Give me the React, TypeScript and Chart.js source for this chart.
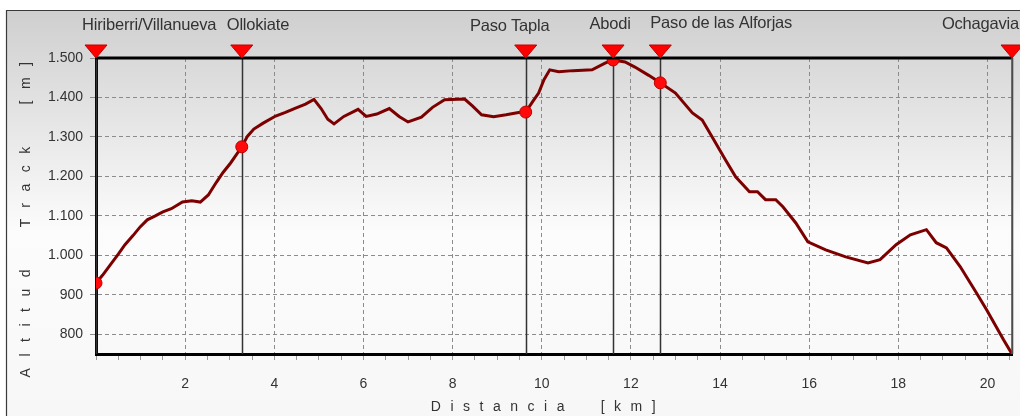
import React, { useEffect, useRef } from "react";
import { Chart, registerables } from "chart.js";

Chart.register(...registerables);

// Profile: distance (km) and altitude (m)
const distKm = [
  0.0, 0.15, 0.32, 0.5, 0.65, 0.83, 0.99, 1.15, 1.33, 1.5, 1.69, 1.94, 2.15, 2.34, 2.52, 2.7, 2.85, 3.02, 3.15,
  3.27, 3.4, 3.54, 3.75, 4.03, 4.25, 4.45, 4.7, 4.89, 5.05, 5.2, 5.34, 5.56, 5.88, 6.06, 6.3, 6.58, 6.8, 7.0,
  7.3, 7.55, 7.82, 8.27, 8.45, 8.65, 8.92, 9.2, 9.48, 9.64, 9.8, 9.93, 10.05, 10.18, 10.38, 10.7, 11.13, 11.42,
  11.6, 11.87, 12.09, 12.4, 12.66, 13.0, 13.38, 13.6, 13.85, 14.12, 14.35, 14.66, 14.84, 15.02, 15.25, 15.41,
  15.7, 15.97, 16.37, 16.82, 17.32, 17.59, 17.95, 18.27, 18.63, 18.85, 19.08, 19.39, 19.75, 19.98, 20.36, 20.55,
];
const altitudeM = [
  930, 950, 976, 1003, 1027, 1050, 1072, 1090, 1100, 1110, 1118, 1135, 1138, 1135, 1153, 1185, 1210, 1234, 1255,
  1275, 1302, 1320, 1335, 1353, 1362, 1372, 1383, 1395, 1372, 1345, 1333, 1352, 1370, 1352, 1358, 1372, 1352, 1338,
  1350, 1375, 1394, 1396, 1378, 1356, 1351, 1356, 1362, 1363, 1390, 1411, 1445, 1470, 1465, 1468, 1470, 1487,
  1495, 1490, 1477, 1456, 1437, 1411, 1361, 1343, 1295, 1242, 1199, 1161, 1161, 1141, 1141, 1123,
  1082, 1034, 1014, 996, 981, 989, 1027, 1052, 1065, 1032, 1019, 971, 905, 862, 786, 750,
];

// Waypoints
const wpNames = ["Hiriberri/Villanueva", "Ollokiate", "Paso Tapla", "Abodi", "Paso de las Alforjas", "Ochagavia"];
const wpKm = [0, 3.27, 9.64, 11.6, 12.66, 20.55];
const wpAlt = [930, 1275, 1363, 1495, 1437, 750];
const wpShowDot = [true, true, true, true, true, false];

// Axis ticks
const yTickValues = [800, 900, 1000, 1100, 1200, 1300, 1400, 1500];
const xMin = 0;
const xMax = 20.55;
const yMin = 750;
const yMax = 1500;

// label layout (styling): alignment and pixel offsets from the waypoint marker
const wpLabelAlign: CanvasTextAlign[] = ["left", "left", "center", "center", "left", "right"];
const wpLabelDx = [-14, -15, -16, -3, -10, 7];
const wpLabelDy = [25, 25, 26, 24, 23, 24];

const FONT = '"Liberation Sans", Arial, sans-serif';

const fmtThousands = (v: number) => {
  const s = String(Math.round(v));
  return s.length > 3 ? s.slice(0, s.length - 3) + "." + s.slice(s.length - 3) : s;
};

const decorPlugin = {
  id: "decor",
  beforeDraw(chart: any) {
    const { ctx, width, height } = chart;
    ctx.save();
    ctx.fillStyle = "#ffffff";
    ctx.fillRect(0, 0, width, height);
    const g = ctx.createLinearGradient(0, 10, 0, height);
    g.addColorStop(0, "#cfcfcf");
    g.addColorStop(0.55, "#fcfcfc");
    g.addColorStop(1, "#f7f7f7");
    ctx.fillStyle = g;
    ctx.fillRect(6, 10, width - 6, height - 10);
    ctx.strokeStyle = "#3a3a3a";
    ctx.lineWidth = 1.2;
    ctx.beginPath();
    ctx.moveTo(6.5, height);
    ctx.lineTo(6.5, 10.5);
    ctx.lineTo(width, 10.5);
    ctx.stroke();

    // axis titles
    ctx.fillStyle = "#333";
    ctx.font = `14px ${FONT}`;
    (ctx as any).letterSpacing = "9.5px";
    ctx.textAlign = "center";
    ctx.textBaseline = "middle";
    ctx.fillText("Distancia  [km]", 548, 407);
    ctx.save();
    ctx.translate(26, 214);
    ctx.rotate(-Math.PI / 2);
    (ctx as any).letterSpacing = "11.5px";
    ctx.fillText("Altitud  Track  [m]", 0, 0);
    ctx.restore();
    (ctx as any).letterSpacing = "0px";
    ctx.restore();
  },
  beforeDatasetsDraw(chart: any) {
    const { ctx, chartArea } = chart;
    const xs = chart.scales.x;
    ctx.save();
    ctx.strokeStyle = "#333";
    ctx.lineWidth = 1.5;
    wpKm.forEach((k) => {
      const px = Math.round(xs.getPixelForValue(k)) + 0.5;
      ctx.beginPath();
      ctx.moveTo(px, chartArea.top);
      ctx.lineTo(px, chartArea.bottom);
      ctx.stroke();
    });
    ctx.restore();
  },
  afterDraw(chart: any) {
    const { ctx, chartArea } = chart;
    const xs = chart.scales.x;
    ctx.save();
    // top and right frame
    ctx.strokeStyle = "#000";
    ctx.lineWidth = 3;
    ctx.beginPath();
    ctx.moveTo(chartArea.left, chartArea.top);
    ctx.lineTo(chartArea.right, chartArea.top);
    ctx.stroke();
    ctx.strokeStyle = "#555";
    ctx.lineWidth = 1.5;
    ctx.beginPath();
    ctx.moveTo(chartArea.right, chartArea.top);
    ctx.lineTo(chartArea.right, chartArea.bottom);
    ctx.stroke();

    // triangles and labels
    wpKm.forEach((k, i) => {
      const px = xs.getPixelForValue(k);
      const tip = chartArea.top;
      ctx.beginPath();
      ctx.moveTo(px - 11, tip - 13);
      ctx.lineTo(px + 11, tip - 13);
      ctx.lineTo(px, tip);
      ctx.closePath();
      ctx.fillStyle = "#ff0000";
      ctx.fill();
      ctx.strokeStyle = "#c00000";
      ctx.lineWidth = 1;
      ctx.stroke();

      ctx.fillStyle = "#333";
      ctx.font = `16.5px ${FONT}`;
      (ctx as any).letterSpacing = "-0.2px";
      ctx.textAlign = wpLabelAlign[i];
      ctx.textBaseline = "middle";
      ctx.fillText(wpNames[i], px + wpLabelDx[i], wpLabelDy[i]);
      (ctx as any).letterSpacing = "0px";
    });
    ctx.restore();
  },
};

export default function App() {
  const ref = useRef<HTMLCanvasElement | null>(null);

  useEffect(() => {
    if (!ref.current) return;
    const profile = distKm.map((d, i) => ({ x: d, y: altitudeM[i] }));
    const dots = wpKm
      .map((k, i) => ({ x: k, y: wpAlt[i], show: wpShowDot[i] }))
      .filter((p) => p.show)
      .map((p) => ({ x: p.x, y: p.y }));

    const chart = new Chart(ref.current, {
      type: "line",
      data: {
        datasets: [
          {
            data: dots,
            showLine: false,
            pointRadius: 6,
            pointBackgroundColor: "#ff0a0a",
            pointBorderColor: "#c00000",
            pointBorderWidth: 1,
            order: 0,
          } as any,
          {
            data: profile,
            borderColor: "#7d0000",
            borderWidth: 3,
            pointRadius: 0,
            tension: 0,
            fill: false,
            order: 1,
          } as any,
        ],
      },
      plugins: [decorPlugin],
      options: {
        responsive: false,
        animation: false,
        events: [],
        layout: { padding: { left: 0, top: 58, right: 8, bottom: 0 } },
        plugins: { legend: { display: false }, tooltip: { enabled: false }, title: { display: false } },
        scales: {
          x: {
            type: "linear",
            min: xMin,
            max: xMax,
            afterFit: (s: any) => {
              s.height = 62;
              s.paddingLeft = 0;
              s.paddingRight = 0;
            },
            afterBuildTicks: (s: any) => {
              const t: any[] = [];
              for (let v = 0; v <= xMax + 1e-9; v += 0.5) t.push({ value: Math.round(v * 10) / 10 });
              s.ticks = t;
            },
            grid: {
              color: (c: any) => (c.tick && c.tick.value % 2 === 0 && c.tick.value > 0 ? "#8c8c8c" : "rgba(0,0,0,0)"),
              tickColor: "#9a9a9a",
              tickLength: 6,
              lineWidth: 1,
              drawTicks: true,
            } as any,
            border: { display: true, color: "#000", width: 3, dash: [4, 3] } as any,
            ticks: {
              autoSkip: false,
              maxRotation: 0,
              padding: 16,
              color: "#333",
              font: { family: FONT, size: 14 },
              callback: (v: any) => (Number(v) % 2 === 0 && Number(v) > 0 ? String(v) : ""),
            },
          },
          y: {
            type: "linear",
            min: yMin,
            max: yMax,
            afterFit: (s: any) => {
              s.width = 96;
              s.paddingTop = 0;
              s.paddingBottom = 0;
            },
            afterBuildTicks: (s: any) => {
              s.ticks = yTickValues.map((v) => ({ value: v }));
            },
            grid: {
              color: "#8c8c8c",
              tickColor: "#8c8c8c",
              tickLength: 6,
              lineWidth: 1,
            } as any,
            border: { display: true, color: "#000", width: 3, dash: [4, 3] } as any,
            ticks: {
              padding: 7,
              color: "#333",
              font: { family: FONT, size: 14 },
              callback: (v: any) => fmtThousands(Number(v)),
            },
          },
        },
      },
    });
    return () => chart.destroy();
  }, []);

  return (
    <div style={{ position: "fixed", left: 0, top: 0, width: 1020, height: 416 }}>
      <canvas ref={ref} width={1020} height={416} style={{ width: 1020, height: 416, display: "block" }} />
    </div>
  );
}
